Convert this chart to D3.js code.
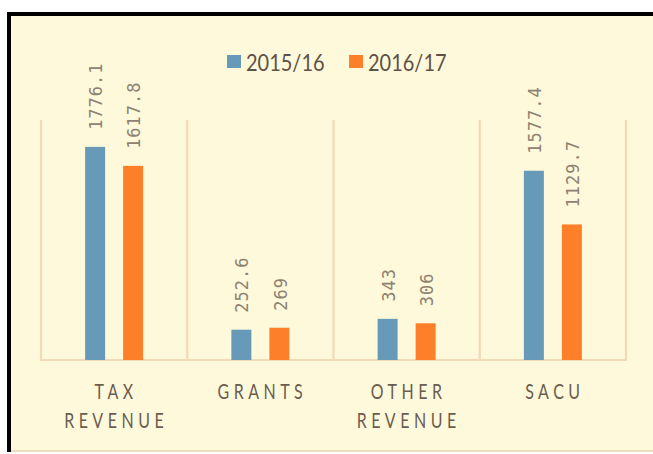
<!DOCTYPE html>
<html>
<head>
<meta charset="utf-8">
<script src="https://cdn.jsdelivr.net/npm/d3@7"></script>
<style>
  body { margin: 0; background: #fff; }
  svg { display: block; }
</style>
</head>
<body>
<div id="chart"></div>
<script>
// chart data
var categories = ["TAX REVENUE", "GRANTS", "OTHER REVENUE", "SACU"]
var catLines = [["TAX", "REVENUE"], ["GRANTS"], ["OTHER", "REVENUE"], ["SACU"]]
var series = ["2015/16", "2016/17"]
var values2015 = [1776.1, 252.6, 343, 1577.4]
var values2016 = [1617.8, 269, 306, 1129.7]
var labels2015 = ["1776.1", "252.6", "343", "1577.4"]
var labels2016 = ["1617.8", "269", "306", "1129.7"]

var colors = { "2015/16": "#6799B9", "2016/17": "#FE7F29" }

var w = 653, h = 454

var svg = d3.select("#chart").append("svg").attr("width", w).attr("height", h)

// frame
svg.append("rect").attr("x", 9).attr("y", 15).attr("width", w).attr("height", 436).attr("fill", "#FFF9DB")
svg.append("line").attr("x1", 9).attr("x2", w).attr("y1", 451).attr("y2", 451)
  .attr("stroke", "#EBDDBD").attr("stroke-width", 2)
svg.append("line").attr("x1", 7).attr("x2", w).attr("y1", 14).attr("y2", 14)
  .attr("stroke", "#000").attr("stroke-width", 4)
svg.append("line").attr("x1", 9).attr("x2", 9).attr("y1", 12).attr("y2", 452)
  .attr("stroke", "#000").attr("stroke-width", 4)

var x0 = d3.scaleBand().domain(categories).range([41, 626]).padding(0)
var x1 = d3.scaleBand().domain(series).range([-29, 29]).paddingInner(0.474)
var y = d3.scaleLinear().domain([0, 2000]).range([360, 120])

var rows = categories.map(function (c, i) {
  return { cat: c, lines: catLines[i], vals: [
    { s: series[0], v: values2015[i], t: labels2015[i] },
    { s: series[1], v: values2016[i], t: labels2016[i] }
  ] }
})

// grid: category separators + baseline
var grid = svg.append("g").attr("stroke", "#F1DAB8").attr("stroke-width", 2.2)
var sepX = categories.map(function (c) { return x0(c) }).concat([x0.range()[1]])
grid.selectAll("line.sep").data(sepX).enter().append("line")
  .attr("x1", function (d) { return d }).attr("x2", function (d) { return d })
  .attr("y1", y(2000)).attr("y2", y(0))
grid.append("line").attr("x1", x0.range()[0] - 1).attr("x2", x0.range()[1] + 1)
  .attr("y1", y(0)).attr("y2", y(0))

var groups = svg.selectAll("g.cat").data(rows).enter().append("g")
  .attr("class", "cat")
  .attr("transform", function (d) { return "translate(" + (x0(d.cat) + x0.bandwidth() / 2) + ",0)" })

groups.selectAll("rect").data(function (d) { return d.vals }).enter().append("rect")
  .attr("x", function (d) { return x1(d.s) })
  .attr("width", x1.bandwidth())
  .attr("y", function (d) { return y(d.v) })
  .attr("height", function (d) { return y(0) - y(d.v) })
  .attr("fill", function (d) { return colors[d.s] })

// rotated value labels
groups.selectAll("text.val").data(function (d) { return d.vals }).enter().append("text")
  .attr("class", "val")
  .attr("transform", function (d) {
    return "translate(" + (x1(d.s) + x1.bandwidth() / 2 + 1) + "," + (y(d.v) - 17) + ") rotate(-90)"
  })
  .attr("dy", "0.36em")
  .style("font-family", "'DejaVu Sans Mono', monospace")
  .style("font-size", "17px")
  .style("letter-spacing", "1px")
  .attr("fill", "#8E8272")
  .text(function (d) { return d.t })

// category labels
groups.each(function (d) {
  var g = d3.select(this)
  d.lines.forEach(function (ln, i) {
    g.append("g").attr("transform", "translate(2," + (399 + i * 29) + ") scale(1,1.32)")
      .append("text")
      .attr("text-anchor", "middle")
      .style("font-family", "Lato, 'Open Sans', sans-serif")
      .style("font-size", "16px")
      .style("letter-spacing", "4.5px")
      .attr("fill", "#6A5D50")
      .text(ln)
  })
})

// legend
var legendX = [227, 349]
var legend = svg.selectAll("g.leg").data(series).enter().append("g")
  .attr("class", "leg")
  .attr("transform", function (d, i) { return "translate(" + legendX[i] + ",0)" })
legend.append("rect").attr("x", 0).attr("y", 55).attr("width", 14).attr("height", 13)
  .attr("fill", function (d) { return colors[d] })
legend.append("g").attr("transform", "translate(19,70.5) scale(1,1.18)")
  .append("text")
  .style("font-family", "Lato, 'Open Sans', sans-serif")
  .style("font-size", "20px")
  .attr("fill", "#5E5145")
  .text(function (d) { return d })
</script>
</body>
</html>
